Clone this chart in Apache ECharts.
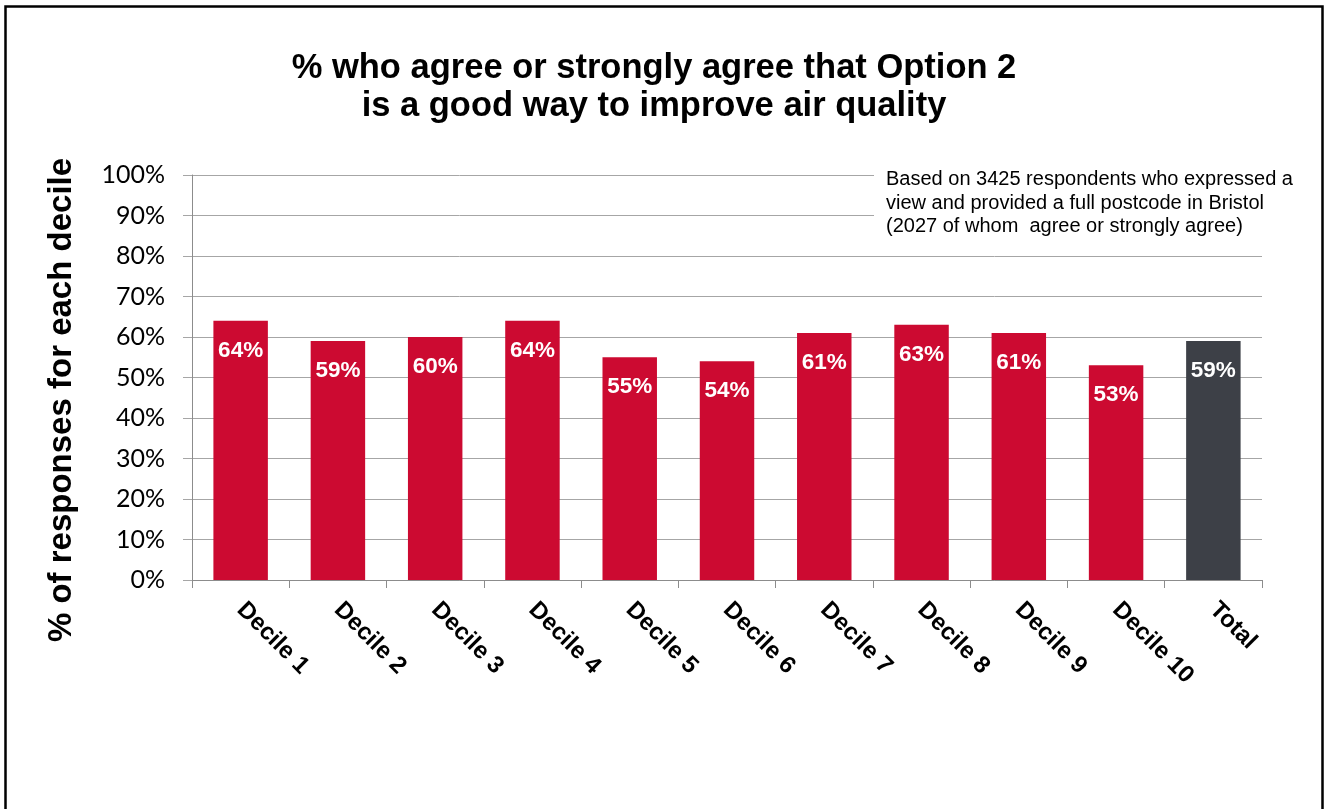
<!DOCTYPE html>
<html>
<head>
<meta charset="utf-8">
<script src="https://cdn.jsdelivr.net/npm/echarts@6/dist/echarts.min.js"></script>
<style>
  html, body { margin: 0; padding: 0; background: #ffffff; }
  #chart { width: 1330px; height: 809px; }
</style>
</head>
<body>
<div id="chart"></div>
<script>
// Share of respondents agreeing with Option 2, by deprivation decile
const categories = ['Decile 1', 'Decile 2', 'Decile 3', 'Decile 4', 'Decile 5',
                    'Decile 6', 'Decile 7', 'Decile 8', 'Decile 9', 'Decile 10', 'Total'];
const agreePct = [64, 59, 60, 64, 55, 54, 61, 63, 61, 53, 59];
const yTicks = [0, 10, 20, 30, 40, 50, 60, 70, 80, 90, 100];
const titleLines = ['% who agree or strongly agree that Option 2', 'is a good way to improve air quality'];
const yAxisTitle = '% of responses for each decile';
const noteLines = ['Based on 3425 respondents who expressed a',
                   'view and provided a full postcode in Bristol',
                   '(2027 of whom  agree or strongly agree)'];

const RED = '#CC0A31';
const DARK = '#3D4047';

const chart = echarts.init(document.getElementById('chart'), null, { renderer: 'canvas' });

const option = {
  backgroundColor: '#ffffff',
  animation: false,
  title: {
    text: titleLines.join('\n'),
    left: 649,
    top: 44,
    textAlign: 'center',
    textStyle: {
      fontFamily: 'Liberation Sans, Arial, sans-serif',
      fontWeight: 'bold',
      fontSize: 34.5,
      lineHeight: 38,
      color: '#000000'
    }
  },
  grid: { left: 192, right: 68, top: 175, bottom: 229, containLabel: false },
  xAxis: {
    type: 'category',
    data: categories,
    axisLine: { show: true, lineStyle: { color: '#8C8C8C', width: 1 } },
    axisTick: { show: true, alignWithLabel: false, length: 8, lineStyle: { color: '#8C8C8C' } },
    axisLabel: {
      rotate: -45,
      margin: 26,
      interval: 0,
      fontFamily: 'Liberation Sans, Arial, sans-serif',
      fontWeight: 'bold',
      fontSize: 24,
      color: '#000000'
    },
    splitLine: { show: false }
  },
  yAxis: {
    type: 'value',
    min: yTicks[0],
    max: yTicks[yTicks.length - 1],
    interval: 10,
    axisLine: { show: true, lineStyle: { color: '#8C8C8C', width: 1 } },
    axisTick: { show: true, length: 9, lineStyle: { color: '#A6A6A6' } },
    axisLabel: {
      margin: 27,
      formatter: v => v + '%',
      fontFamily: 'Lato, "Open Sans", sans-serif',
      fontSize: 25,
      color: '#000000'
    },
    splitLine: { show: true, lineStyle: { color: '#A6A6A6', width: 1 } }
  },
  series: [{
    type: 'bar',
    data: agreePct.map((v, i) => ({
      value: v,
      itemStyle: { color: categories[i] === 'Total' ? DARK : RED }
    })),
    barWidth: '56%',
    label: {
      show: true,
      position: 'insideTop',
      distance: 18,
      formatter: p => p.value + '%',
      fontFamily: 'Liberation Sans, Arial, sans-serif',
      fontWeight: 'bold',
      fontSize: 22.5,
      color: '#ffffff'
    }
  }],
  graphic: [
    {
      // outer frame
      type: 'rect',
      shape: { x: 5.5, y: 6.5, width: 1317, height: 820 },
      style: { fill: null, stroke: '#000000', lineWidth: 2.5 },
      silent: true
    },
    {
      // vertical axis title
      type: 'text',
      x: 62,
      y: 400,
      rotation: Math.PI / 2,
      style: {
        text: yAxisTitle,
        font: 'bold 33px "Liberation Sans", Arial, sans-serif',
        fill: '#000000',
        align: 'center',
        verticalAlign: 'middle'
      },
      silent: true
    },
    {
      // sample note, on a white box that hides the top gridlines
      type: 'rect',
      shape: { x: 874, y: 164, width: 400, height: 76 },
      style: { fill: '#ffffff' },
      z: 10,
      silent: true
    },
    {
      type: 'text',
      left: 886,
      top: 168,
      z: 11,
      style: {
        text: noteLines.join('\n'),
        font: '20px "Liberation Sans", Arial, sans-serif',
        lineHeight: 23.5,
        fill: '#000000'
      },
      silent: true
    }
  ]
};

chart.setOption(option);
</script>
</body>
</html>
